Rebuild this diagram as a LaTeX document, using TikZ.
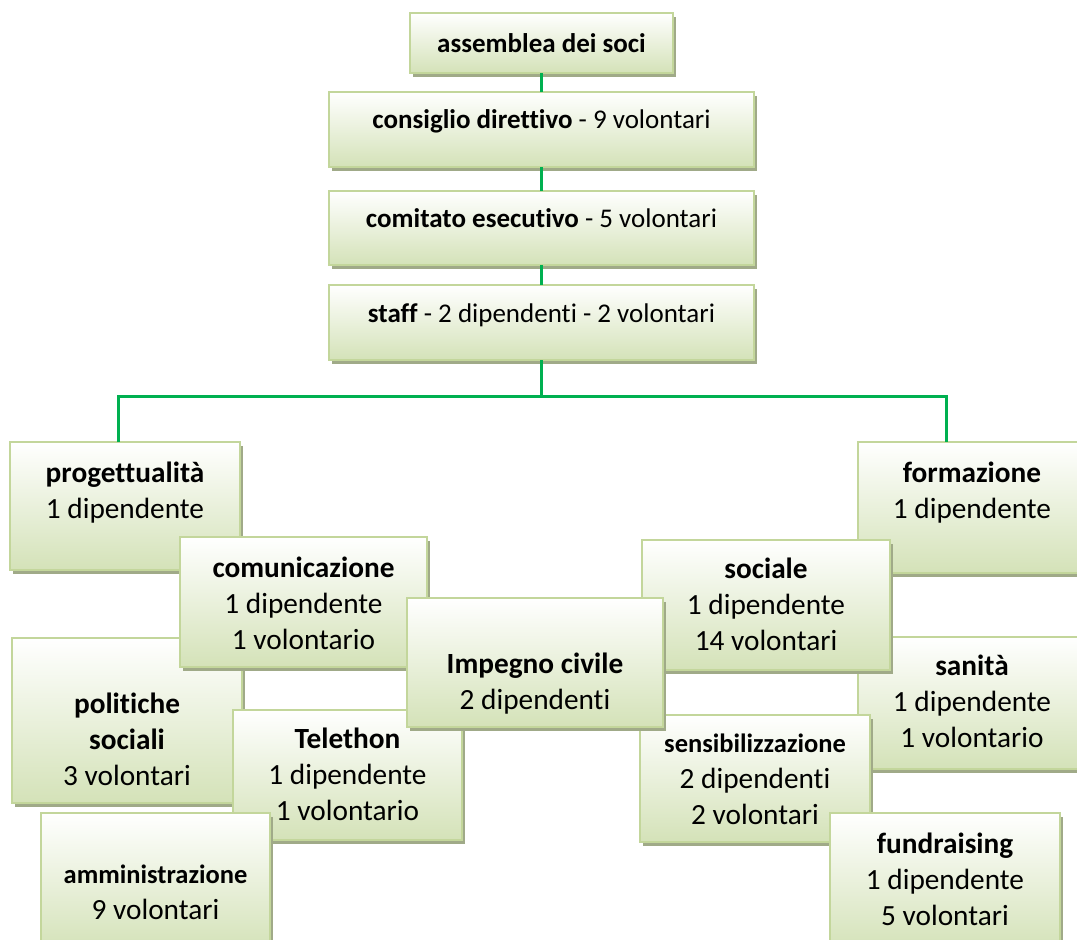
\documentclass[tikz,border=0pt]{standalone}
\usepackage{fontspec}
\setmainfont{Carlito}[Ligatures=NoCommon]
\usetikzlibrary{shadows}
\definecolor{boxgreen}{RGB}{212,226,184}
\definecolor{boxedge}{RGB}{195,214,155}
\definecolor{shadowc}{RGB}{160,170,136}
\definecolor{linegreen}{RGB}{0,176,80}
\newcommand\orgtext[1]{\begin{tabular}[t]{@{}c@{}}#1\end{tabular}}
\tikzset{
  orgbox/.style={draw=boxedge, line width=2pt, top color=white, bottom color=boxgreen,
    drop shadow={shadow xshift=3pt, shadow yshift=-4pt, fill=shadowc, opacity=1},
    inner sep=0pt, outer sep=0pt},
  conn/.style={draw=linegreen, line width=3pt},
  toplbl/.style={anchor=base, inner sep=0pt, font=\fontsize{27}{32}\selectfont},
  lowlbl/.style={anchor=base, inner sep=0pt, font=\fontsize{29.3}{36}\selectfont},
}
\newcommand\smallbold[1]{{\fontsize{26.5}{36}\selectfont\bfseries #1}}
\begin{document}
\begin{tikzpicture}[x=1pt,y=-1pt]
\useasboundingbox (0,0) rectangle (1077,940);
\clip (0,0) rectangle (1077,940);
\fill[white] (0,0) rectangle (1077,940);

% top chain
\node[orgbox, minimum width=263pt, minimum height=60pt] (ass) at (541.5,43) {};
\node[toplbl] (t-ass) at ([yshift=-39pt]ass.north) {\bfseries assemblea dei soci};
\node[orgbox, minimum width=425pt, minimum height=75pt] (cons) at (541.5,129.5) {};
\node[toplbl] (t-cons) at ([yshift=-36pt]cons.north) {\textbf{consiglio direttivo} - 9 volontari};
\node[orgbox, minimum width=425pt, minimum height=74pt] (comi) at (541.5,228) {};
\node[toplbl] (t-comi) at ([yshift=-36pt]comi.north) {\textbf{comitato esecutivo} - 5 volontari};
\node[orgbox, minimum width=425pt, minimum height=75pt] (staff) at (541.5,322.5) {};
\node[toplbl] (t-staff) at ([yshift=-37pt]staff.north) {\textbf{staff} - 2 dipendenti - 2 volontari};

\draw[conn] (ass.south) -- (cons.north);
\draw[conn] (cons.south) -- (comi.north);
\draw[conn] (comi.south) -- (staff.north);
\coordinate (busL) at (118,396);
\coordinate (busR) at (946,396);
\coordinate (busM) at (541.5,396);
\draw[conn] (staff.south) -- (busM);

% lower boxes
\node[orgbox, minimum width=230pt, minimum height=128pt] (prog) at (125,506) {};
\node[lowlbl] (t-prog) at ([yshift=-40pt]prog.north) {\orgtext{\textbf{progettualità}\\1 dipendente}};
\node[orgbox, minimum width=228pt, minimum height=131pt] (form) at (972,507.5) {};
\node[lowlbl] (t-form) at ([yshift=-40pt]form.north) {\orgtext{\textbf{formazione}\\1 dipendente}};
\draw[conn] (busL |- prog.north) -- (busL) -- (busR) -- (busR |- form.north);

\node[orgbox, minimum width=230pt, minimum height=165pt] (pol) at (127,720.5) {};
\node[lowlbl] (t-pol) at ([yshift=-75pt]pol.north) {\orgtext{\textbf{politiche}\\\textbf{sociali}\\3 volontari}};
\node[orgbox, minimum width=228pt, minimum height=132pt] (san) at (972,703) {};
\node[lowlbl] (t-san) at ([yshift=-38pt]san.north) {\orgtext{\textbf{sanità}\\1 dipendente\\1 volontario}};
\node[orgbox, minimum width=247pt, minimum height=130pt] (com) at (303.5,602) {};
\node[lowlbl] (t-com) at ([yshift=-40pt]com.north) {\orgtext{\textbf{comunicazione}\\1 dipendente\\1 volontario}};
\node[orgbox, minimum width=248pt, minimum height=130pt] (soc) at (766,605) {};
\node[lowlbl] (t-soc) at ([yshift=-38pt]soc.north) {\orgtext{\textbf{sociale}\\1 dipendente\\14 volontari}};
\node[orgbox, minimum width=229pt, minimum height=130pt] (tel) at (347.5,775) {};
\node[lowlbl] (t-tel) at ([yshift=-38pt]tel.north) {\orgtext{\textbf{Telethon}\\1 dipendente\\1 volontario}};
\node[orgbox, minimum width=230pt, minimum height=127pt] (sens) at (755,778.5) {};
\node[lowlbl] (t-sens) at ([yshift=-37pt]sens.north) {\orgtext{\smallbold{sensibilizzazione}\\2 dipendenti\\2 volontari}};
\node[orgbox, minimum width=229pt, minimum height=137pt] (amm) at (155.5,881.5) {};
\node[lowlbl] (t-amm) at ([yshift=-70pt]amm.north) {\orgtext{\smallbold{amministrazione}\\9 volontari}};
\node[orgbox, minimum width=230pt, minimum height=137pt] (fund) at (945,881.5) {};
\node[lowlbl] (t-fund) at ([yshift=-40pt]fund.north) {\orgtext{\textbf{fundraising}\\1 dipendente\\5 volontari}};
\node[orgbox, minimum width=256pt, minimum height=129pt] (imp) at (535,662.5) {};
\node[lowlbl] (t-imp) at ([yshift=-75pt]imp.north) {\orgtext{\textbf{Impegno civile}\\2 dipendenti}};
\end{tikzpicture}
\end{document}
